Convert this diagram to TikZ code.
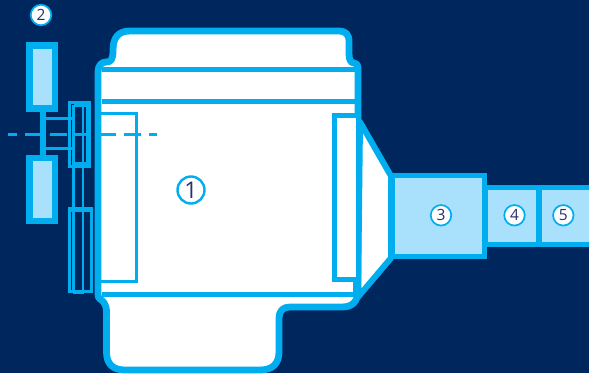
\documentclass[tikz,border=0pt]{standalone}
\usepackage{fontspec}
\setmainfont{Open Sans}
\definecolor{navy}{HTML}{00265E}
\definecolor{cy}{HTML}{00AEEF}
\definecolor{pale}{HTML}{A9E0FC}
\definecolor{ink}{HTML}{2B2F6B}
\tikzset{
  wall/.style={draw=cy,line width=6.8pt,line join=round},
  thinwall/.style={draw=cy,line width=2.9pt},
  numsmall/.style={circle,draw=cy,fill=white,line width=1.7pt,minimum size=20.5pt,inner sep=0pt,text=ink,font=\fontsize{15.5}{15.5}\selectfont},
  numbig/.style={circle,draw=cy,fill=white,line width=2.4pt,minimum size=27pt,inner sep=0pt,text=ink,font=\fontsize{23}{23}\selectfont}
}
\begin{document}
\begin{tikzpicture}[x=1pt,y=-1pt]
\useasboundingbox (0,0) rectangle (589,373);
\fill[navy] (0,0) rectangle (589,373);
% cone
\filldraw[fill=white,draw=cy,line width=6pt,line join=round] (360,122) -- (391,176) -- (391,258) -- (358,297) -- cycle;
% body
\filldraw[fill=white,wall]
  (113,50) .. controls (113,38) and (118,31) .. (130,31) -- (338,31)
  .. controls (346,31) and (349,34) .. (349,42) -- (349,54)
  .. controls (349,60) and (351,63) .. (354,63) .. controls (357,63) and (358,65) .. (358,68)
  -- (358,118) -- (358,290) .. controls (358,302) and (352,307) .. (342,307)
  -- (290,307) .. controls (283,307) and (279,311) .. (279,318) -- (279,352)
  .. controls (279,364) and (272,370) .. (260,370) -- (125,370)
  .. controls (113,370) and (106.5,364) .. (106.5,352) -- (106.5,312)
  .. controls (106.5,304) and (103,301) .. (100,299) .. controls (98.5,298) and (98,297) .. (98,294)
  -- (98,72) .. controls (98,65) and (102,62) .. (106,62)
  .. controls (111,62) and (113,60) .. (113,50) -- cycle;
% horizontal lines
\fill[cy] (102,66.5) rectangle (355,71.7);
\fill[cy] (102,98.5) rectangle (355,103.7);
\fill[cy] (102,291.5) rectangle (355,296.7);
% panel
\draw[thinwall] (101,113.5) -- (136.5,113.5) -- (136.5,281.5) -- (101,281.5);
% inner tall box
\draw[cy,line width=5.5pt] (356,282) -- (356,297);
\filldraw[fill=white,draw=cy,line width=5pt] (334.5,115.5) rectangle (358.5,279.5);
% boxes
\filldraw[fill=pale,draw=cy,line width=5.5pt] (485,187.5) rectangle (600,244.5);
\draw[cy,line width=6pt] (538.7,187) -- (538.7,245);
\filldraw[fill=pale,draw=cy,line width=5.5pt] (391.5,175.3) rectangle (484.5,256.6);
\fill[cy] (388,172.7) rectangle (395,259.3);
% drive wheels
\coordinate (shafttop) at (43,108);
\coordinate (shaftbot) at (43,158);
\draw[cy,line width=6pt] (shafttop) -- (shaftbot);
\filldraw[fill=pale,draw=cy,line width=6.5pt] (29.3,45.6) rectangle (54.9,108.4);
\filldraw[fill=pale,draw=cy,line width=6.5pt] (29.3,158.2) rectangle (54.9,221);
\draw[thinwall] (43,118.5) -- (72,118.5);
\draw[thinwall] (43,148.5) -- (72,148.5);
% pulleys
\draw[thinwall] (69.4,102.4) rectangle (89.4,166.4);
\draw[thinwall] (69.4,208.4) rectangle (91.2,291.7);
\draw[thinwall] (73.8,105) -- (73.8,292.5);
\draw[thinwall] (83,105) -- (83,292.5);
\draw[thinwall] (87,102.4) -- (87,166.4);
\draw[thinwall] (73.8,105.5) -- (87,105.5);
\draw[thinwall] (73.8,163.5) -- (87,163.5);
\draw[thinwall] (69.4,210.5) -- (91.2,210.5);
\draw[cy,line width=3.5pt] (73,292) -- (84,292);
% centre line
\draw[cy,line width=3.5pt,dash pattern=on 17pt off 7.8pt,dash phase=8pt] (8,134.5) -- (157,134.5);
% numbers
\node[numbig] (n1) at (191,190) {1};
\node[numsmall] (n2) at (41,15) {2};
\node[numsmall] (n3) at (441,215.3) {3};
\node[numsmall] (n4) at (514.5,215.3) {4};
\node[numsmall] (n5) at (563.3,215.3) {5};
\end{tikzpicture}
\end{document}
